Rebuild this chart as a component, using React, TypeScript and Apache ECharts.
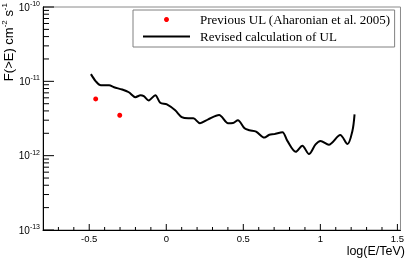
import React, { useEffect, useRef } from "react";
import * as echarts from "echarts";

// Previous UL points (Aharonian et al. 2005): [log(E/TeV), F(>E)]
const prevX = [-0.458, -0.302];
const prevY = [5.8e-12, 3.5e-12];

// Revised calculation of UL
const revX = [
  -0.489, -0.457, -0.424, -0.371, -0.339, -0.286, -0.243, -0.2, -0.167, -0.146,
  -0.114, -0.071, -0.039, 0.004, 0.058, 0.1, 0.143, 0.176, 0.219, 0.272,
  0.343, 0.401, 0.433, 0.465, 0.508, 0.54, 0.583, 0.637, 0.669, 0.701,
  0.754, 0.786, 0.84, 0.883, 0.926, 0.969, 1.001, 1.055, 1.129, 1.176,
  1.208, 1.222,
];
const revY = [
  1.25e-11, 1.0e-11, 8.85e-12, 8.85e-12, 8.32e-12, 7.75e-12, 7.13e-12, 6.12e-12, 6.5e-12, 6.31e-12,
  5.53e-12, 6.5e-12, 5.14e-12, 4.89e-12, 4.07e-12, 3.31e-12, 3.18e-12, 3.18e-12, 2.73e-12, 3.08e-12,
  3.52e-12, 2.73e-12, 2.75e-12, 2.99e-12, 2.33e-12, 2.2e-12, 2.11e-12, 1.75e-12, 1.91e-12, 1.95e-12,
  2.07e-12, 1.58e-12, 1.13e-12, 1.36e-12, 1.05e-12, 1.42e-12, 1.58e-12, 1.4e-12, 1.89e-12, 1.43e-12,
  2.15e-12, 3.6e-12,
];

// axis ranges and ticks
const xMin = -0.8;
const xMax = 1.52;
const yMin = 1e-13;
const yMax = 1e-10;
const xMajorTicks = [-0.5, 0, 0.5, 1, 1.5];
const xMinorTicks = [
  -0.7, -0.6, -0.4, -0.3, -0.2, -0.1, 0.1, 0.2, 0.3, 0.4, 0.6, 0.7, 0.8, 0.9,
  1.1, 1.2, 1.3, 1.4,
];
const yDecades = [-13, -12, -11, -10];
const yMinorMultipliers = [2, 3, 4, 5, 6, 7, 8, 9];

const prevName = "Previous UL (Aharonian et al. 2005)";
const revName = "Revised calculation of UL";

export default function App() {
  const ref = useRef<HTMLDivElement>(null);

  useEffect(() => {
    if (!ref.current) return;
    const chart = echarts.init(ref.current, undefined, { renderer: "svg" });

    const yMajor: number[] = yDecades.map((e) => Math.pow(10, e));
    const yMinor: number[] = [];
    yDecades.slice(0, -1).forEach((e) => {
      yMinorMultipliers.forEach((k) => yMinor.push(k * Math.pow(10, e)));
    });

    const yTickData = [
      ...yMajor.map((v) => [xMin, v, 1]),
      ...yMinor.map((v) => [xMin, v, 0]),
    ];
    const xTickData = [
      ...xMajorTicks.map((v) => [v, yMin, 1]),
      ...xMinorTicks.map((v) => [v, yMin, 0]),
    ];

    const sans = "'Liberation Sans', Arial, Helvetica, sans-serif";
    const serif = "'Liberation Serif', 'Times New Roman', serif";

    chart.setOption({
      animation: false,
      grid: {
        left: 43,
        top: 5,
        right: 3,
        bottom: 28,
        show: true,
        borderColor: "#8a8a8a",
        borderWidth: 1,
        backgroundColor: "transparent",
      },
      legend: {
        left: 133,
        top: 10,
        orient: "vertical",
        padding: [3, 4, 4, 10],
        itemGap: 4,
        itemWidth: 47,
        itemHeight: 5,
        symbolKeepAspect: true,
        borderColor: "#808080",
        borderWidth: 1,
        backgroundColor: "#fff",
        textStyle: {
          fontFamily: serif,
          fontSize: 13,
          color: "#000",
          padding: [0, 0, 0, 5],
        },
        data: [
          { name: prevName, icon: "circle" },
          { name: revName, icon: "path://M0,0L47,0L47,2L0,2Z" },
        ],
      },
      xAxis: {
        type: "value",
        min: xMin,
        max: xMax,
        interval: 0.1,
        splitLine: { show: false },
        axisTick: { show: false },
        axisLine: { show: true, onZero: false, lineStyle: { color: "#000", width: 1 } },
        axisLabel: {
          margin: 3,
          fontFamily: sans,
          fontSize: 9.5,
          color: "#000",
          formatter: (v: number) => {
            if (Math.abs(v * 2 - Math.round(v * 2)) > 1e-6) return "";
            if (v < xMin + 1e-6 || v > 1.5 + 1e-6) return "";
            return String(Math.round(v * 10) / 10);
          },
        },
      },
      yAxis: {
        type: "log",
        logBase: 10,
        min: yMin,
        max: yMax,
        splitLine: { show: false },
        axisTick: { show: false },
        axisLine: { show: true, onZero: false, lineStyle: { color: "#000", width: 1 } },
        axisLabel: {
          margin: 3,
          fontFamily: sans,
          color: "#000",
          formatter: (v: number) => {
            const e = Math.round(Math.log10(v));
            return `{b|10}{s|${e}}`;
          },
          rich: {
            b: { fontSize: 10, fontFamily: sans, color: "#000" },
            s: { fontSize: 7, fontFamily: sans, color: "#000", padding: [0, 0, 7, 0] },
          },
        },
      },
      graphic: [
        {
          type: "text",
          x: 8,
          y: 3,
          rotation: Math.PI / 2,
          style: {
            text: "{b|F(>E) cm}{s|-2}{b| s}{s|-1}",
            align: "right",
            verticalAlign: "middle",
            textAlign: "right",
            textVerticalAlign: "middle",
            rich: {
              b: { fontSize: 13, fontFamily: sans, fill: "#000", color: "#000" },
              s: { fontSize: 8, fontFamily: sans, fill: "#000", color: "#000", padding: [0, 0, 7, 0] },
            },
          },
        },
        {
          type: "text",
          x: 405,
          y: 251,
          style: {
            text: "log(E/TeV)",
            align: "right",
            verticalAlign: "middle",
            textAlign: "right",
            textVerticalAlign: "middle",
            fontSize: 12.5,
            fontFamily: sans,
            fill: "#000",
          },
        },
      ],
      series: [
        {
          name: revName,
          type: "line",
          data: revX.map((x, i) => [x, revY[i]]),
          symbol: "none",
          smooth: 0.3,
          lineStyle: { color: "#000", width: 2 },
          itemStyle: { color: "#000" },
          z: 3,
        },
        {
          name: prevName,
          type: "scatter",
          data: prevX.map((x, i) => [x, prevY[i]]),
          symbol: "circle",
          symbolSize: 5,
          itemStyle: { color: "#ff0000", opacity: 1 },
          z: 4,
        },
        {
          name: "yticks",
          type: "custom",
          data: yTickData,
          silent: true,
          clip: false,
          renderItem: (params: any, api: any) => {
            const p = api.coord([api.value(0), api.value(1)]);
            const len = api.value(2) === 1 ? 11 : 6;
            return {
              type: "line",
              shape: { x1: p[0], y1: p[1], x2: p[0] + len, y2: p[1] },
              style: { stroke: "#000", lineWidth: 1 },
            };
          },
          z: 2,
        },
        {
          name: "xticks",
          type: "custom",
          data: xTickData,
          silent: true,
          clip: false,
          renderItem: (params: any, api: any) => {
            const p = api.coord([api.value(0), api.value(1)]);
            const len = api.value(2) === 1 ? 6 : 3;
            return {
              type: "line",
              shape: { x1: p[0], y1: p[1], x2: p[0], y2: p[1] - len },
              style: { stroke: "#000", lineWidth: 1 },
            };
          },
          z: 2,
        },
      ],
    });

    return () => {
      chart.dispose();
    };
  }, []);

  return (
    <div
      ref={ref}
      style={{ position: "fixed", left: 0, top: 0, width: 407, height: 258 }}
    />
  );
}
